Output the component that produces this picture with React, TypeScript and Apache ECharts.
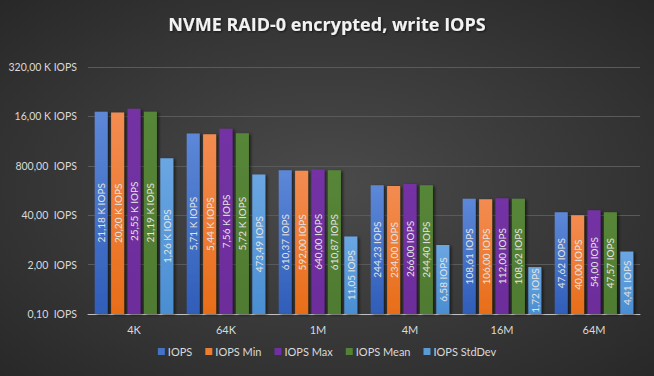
import React, { useEffect, useRef } from "react";
import * as echarts from "echarts";

const categories = ["4K", "64K", "1M", "4M", "16M", "64M"];
const seriesNames = ["IOPS", "IOPS Min", "IOPS Max", "IOPS Mean", "IOPS StdDev"];
const iops = [21180, 5710, 610.37, 244.23, 108.61, 47.62];
const iopsMin = [20200, 5440, 592, 234, 106, 40];
const iopsMax = [25550, 7560, 640, 266, 112, 54];
const iopsMean = [21190, 5720, 610.87, 244.4, 108.62, 47.57];
const iopsStdDev = [1260, 473.49, 11.05, 6.58, 1.72, 4.41];
const yTicks = [0.1, 2, 40, 800, 16000, 320000];

const seriesValues = [iops, iopsMin, iopsMax, iopsMean, iopsStdDev];
const seriesColors: [string, string, string][] = [
  ["#5d88d8", "#2f5db8", "#4472c4"],
  ["#f38c52", "#e86d18", "#ed7d31"],
  ["#7433a4", "#6c2d9b", "#7030a0"],
  ["#578638", "#4f7b31", "#548235"],
  ["#6aa6e2", "#4a8ed2", "#5b9bd5"],
];

function fmt(v: number, dblSpace: boolean): string {
  if (v >= 1000) return (v / 1000).toFixed(2).replace(".", ",") + " K IOPS";
  return v.toFixed(2).replace(".", ",") + (dblSpace ? "  IOPS" : " IOPS");
}

export default function App() {
  const ref = useRef<HTMLDivElement>(null);
  useEffect(() => {
    if (!ref.current) return;
    const chart = echarts.init(ref.current, undefined, { renderer: "svg" });
    const font = "Lato, 'Open Sans', sans-serif";
    const n = seriesNames.length;
    const barW = 13;
    const gap = 3.4;
    const groupW = n * barW + (n - 1) * gap;
    chart.setOption({
      animation: false,
      backgroundColor: {
        type: "radial",
        x: 0.5,
        y: 0.5,
        r: 0.75,
        colorStops: [
          { offset: 0, color: "#4b4b4b" },
          { offset: 1, color: "#262626" },
        ],
      },
      title: {
        text: "NVME RAID-0 encrypted, write IOPS",
        left: "center",
        top: 10,
        textStyle: {
          color: "#f2f2f2",
          fontSize: 18,
          fontWeight: "bold",
          fontFamily: "'Open Sans', sans-serif",
          textShadowColor: "rgba(0,0,0,0.6)",
          textShadowBlur: 2,
          textShadowOffsetX: 1,
          textShadowOffsetY: 1,
        },
      },
      legend: {
        bottom: 14,
        left: "center",
        itemWidth: 7,
        itemHeight: 7,
        itemGap: 13,
        icon: "rect",
        textStyle: { color: "#d9d9d9", fontSize: 11, fontFamily: font, padding: [0, 0, 0, -2] },
        data: seriesNames,
      },
      grid: { left: 88, right: 14, top: 67, bottom: 62 },
      xAxis: {
        type: "category",
        data: categories,
        axisLine: { lineStyle: { color: "#bfbfbf", width: 1 } },
        axisTick: { show: false },
        axisLabel: { color: "#d9d9d9", fontSize: 11, fontFamily: font, margin: 10 },
      },
      yAxis: {
        type: "log",
        logBase: 20,
        min: yTicks[0],
        max: yTicks[yTicks.length - 1],
        axisLine: { show: false },
        axisTick: { show: false, customValues: yTicks },
        splitLine: { show: true, lineStyle: { color: "#5a5a5a", width: 1 } },
        axisLabel: {
          customValues: yTicks,
          color: "#d9d9d9",
          fontSize: 10.5,
          fontFamily: font,
          margin: 11,
          formatter: (v: number) => fmt(v, true),
        },
      },
      series: seriesNames.map((name, si) => ({
        name,
        type: "custom",
        data: seriesValues[si].map((v, ci) => [ci, v]),
        encode: { x: 0, y: 1 },
        itemStyle: { color: seriesColors[si][2] },
        renderItem: (params: any, api: any) => {
          const ci = api.value(0);
          const v = api.value(1);
          const top = api.coord([ci, v]);
          const base = api.coord([ci, yTicks[0]]);
          const x = top[0] - groupW / 2 + si * (barW + gap);
          return {
            type: "rect",
            shape: { x, y: top[1], width: barW, height: base[1] - top[1] },
            style: {
              fill: new echarts.graphic.LinearGradient(0, 0, 0, 1, [
                { offset: 0, color: seriesColors[si][0] },
                { offset: 1, color: seriesColors[si][1] },
              ]),
              shadowColor: "rgba(0,0,0,0.55)",
              shadowBlur: 3,
              shadowOffsetX: 2,
              shadowOffsetY: 1,
            },
            textContent: {
              style: {
                text: fmt(v, false),
                fill: "#e4e4e4",
                fontSize: 10,
                fontFamily: font,
              },
            },
            textConfig: { position: "inside", rotation: Math.PI / 2 },
          };
        },
      })),
    });
    return () => chart.dispose();
  }, []);
  return (
    <div
      ref={ref}
      style={{ width: 654, height: 376, position: "absolute", left: 0, top: 0 }}
    />
  );
}
